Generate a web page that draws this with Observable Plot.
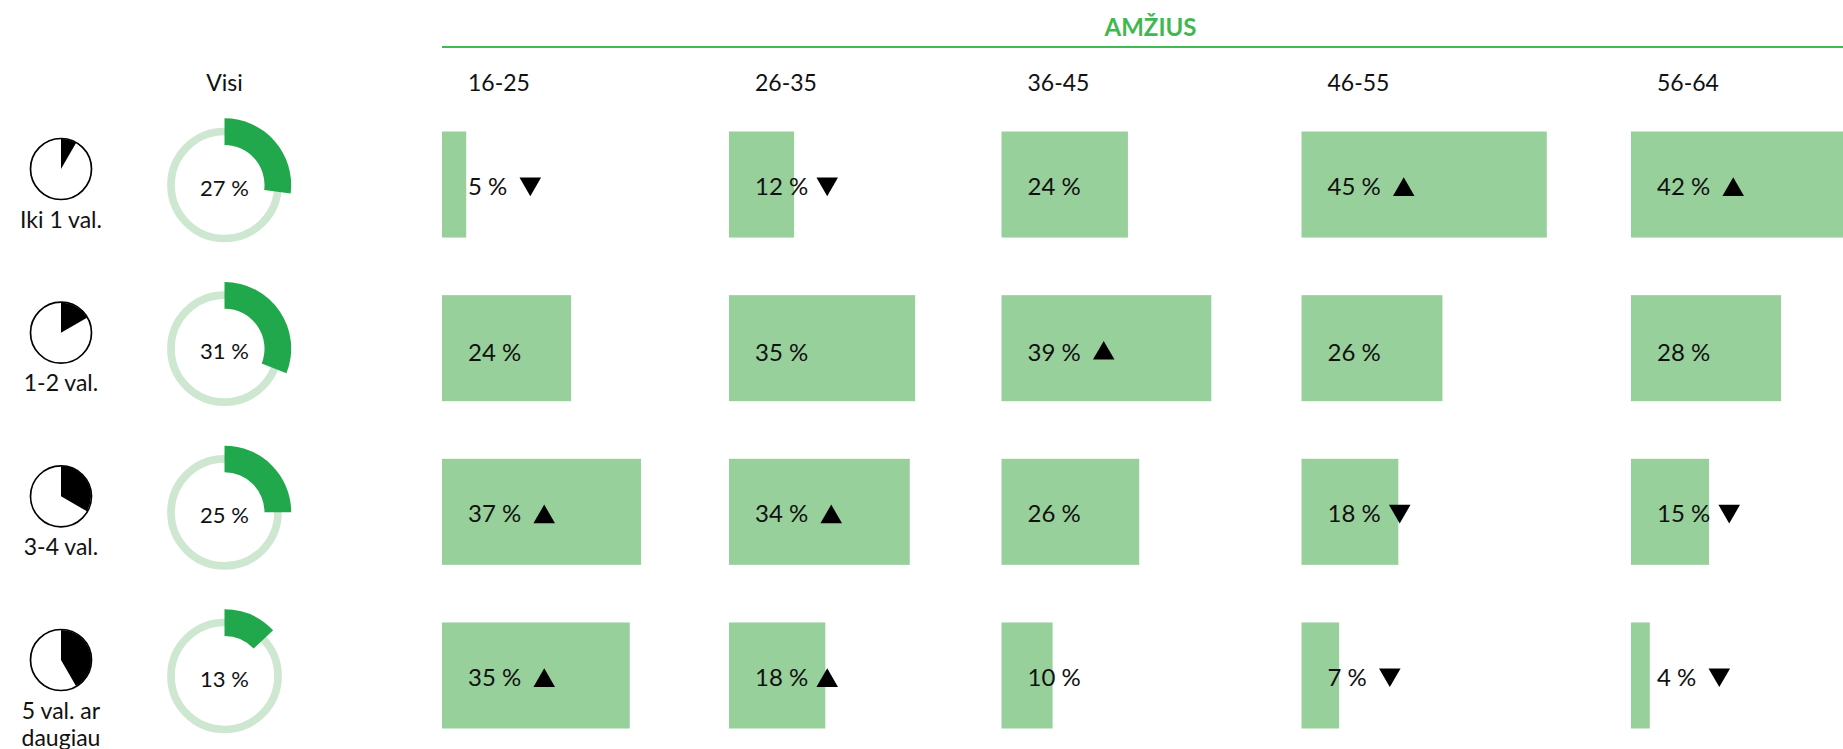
<!DOCTYPE html>
<html><head><meta charset="utf-8">
<script src="https://cdn.jsdelivr.net/npm/d3@7"></script>
<script src="https://cdn.jsdelivr.net/npm/@observablehq/plot@0.6"></script>
<style>
html,body{margin:0;padding:0;background:#fff;overflow:hidden}
svg{display:block}
g[aria-label="cell value"]{word-spacing:6.5px}
g[aria-label="overall value"]{word-spacing:4px}
g[aria-label="age"]{letter-spacing:.4px}
g[aria-label="duration"]{word-spacing:2px}
g[aria-label="duration"] text:nth-child(2){letter-spacing:1.1px}
g[aria-label="duration"] text:nth-child(3){letter-spacing:1.8px}
g[aria-label="duration"] text:nth-child(4){letter-spacing:2.4px}
</style>
</head><body><div id="chart"></div>
<script>
const durations = ["Iki 1 val.", "1-2 val.", "3-4 val.", "5 val. ar\ndaugiau"];
const clockHours = [1, 2, 4, 5];
const overall = [27, 31, 25, 13];
const ages = ["16-25", "26-35", "36-45", "46-55", "56-64"];
// shown label per row
const labels = [
  [5, 12, 24, 45, 42],
  [24, 35, 39, 26, 28],
  [37, 34, 26, 18, 15],
  [35, 18, 10, 7, 4]
];
// bar length per row
const barValues = [
  [4.5, 12.1, 23.5, 45.6, 42.2],
  [24, 34.6, 39, 26.2, 27.9],
  [37, 33.6, 25.6, 18, 14.5],
  [34.9, 17.9, 9.5, 7, 3.5]
];
// +1 above, -1 below the average, 0 none
const trends = [
  [-1, -1, 0, 1, 1],
  [0, 0, 1, 0, 0],
  [1, 1, 0, -1, -1],
  [1, 1, 0, -1, -1]
];
const headerTitle = "AMŽIUS";
const allTitle = "Visi";

// layout, in units of the x scale (percentage points)
const pxPerPoint = 5.38;
const toPoints = px => px / pxPerPoint;
const colStart = [442, 729, 1001.5, 1301.5, 1631].map(toPoints);
const clockX = toPoints(60.5);
const donutX = toPoints(224);
const titleX = toPoints(1150);
const FONT = "Lato";
const SIZE = 23;
const VALUE_SIZE = 24;
const VALUE_SPACING = 6.5;

const ctx = document.createElement("canvas").getContext("2d");
ctx.font = `${VALUE_SIZE}px ${FONT}`;
// the reference's digit "1" is narrower than this font's tabular one
const textPx = s => ctx.measureText(s).width + VALUE_SPACING - (s.match(/1/g) || []).length * 4;

const cells = durations.flatMap((duration, r) => ages.map((age, c) => ({
  duration, age, row: r, start: colStart[c], value: barValues[r][c],
  label: `${labels[r][c]} %`, trend: trends[r][c]
})));
const rows = durations.map((duration, r) => ({duration, hours: clockHours[r], share: overall[r]}));
const headers = ages.map((age, c) => ({age, start: colStart[c]}));
const firstRow = durations[0];

const arcShape = {draw(c, l) {
  const a0 = -Math.PI / 2, a1 = a0 + 2 * Math.PI * l / 100;
  c.arc(0, 0, 66.7, a0, a1);
  c.arc(0, 0, 40, a1, a0, true);
  c.closePath();
}};
const wedgeShape = {draw(c, l) {
  const a0 = -Math.PI / 2, a1 = a0 + 2 * Math.PI * l / 12;
  c.moveTo(0, 0);
  c.arc(0, 0, 30, a0, a1);
  c.closePath();
}};

const textBase = {fontFamily: FONT, fontSize: SIZE, fill: "#111"};
const valueText = {ariaLabel: "cell value", x: "start", y: "duration", text: "label", dx: 25.5, textAnchor: "start", fontFamily: FONT, fontSize: VALUE_SIZE, fill: "#111"};
const triangle = {
  x: d => d.start + toPoints(textPx(d.label)), y: "duration", dx: 25.5 + 16.5,
  symbol: "triangle", r: 8, fill: "#000", stroke: "none"
};

const chart = Plot.plot({
  width: 1843, height: 749, margin: 0,
  style: {background: "#fff", fontFamily: FONT},
  x: {type: "linear", domain: [0, 1843 / pxPerPoint], range: [0, 1843], axis: null},
  y: {type: "band", domain: durations, range: [131.5, 728.5], paddingInner: 0.352, paddingOuter: 0, round: false, axis: null},
  length: {type: "identity"},
  marks: [
    Plot.ruleY([firstRow], {x1: () => colStart[0], x2: () => 1843 / pxPerPoint, y: d => d, dy: -138, stroke: "#41b953", strokeWidth: 2}),
    Plot.text([headerTitle], {x: () => titleX, y: () => firstRow, text: d => d, dy: -157, fontFamily: FONT, fontSize: 24, fontWeight: 700, fill: "#3fb850"}),
    Plot.text([allTitle], {x: () => donutX, y: () => firstRow, text: d => d, dy: -101, ...textBase}),
    Plot.text(headers, {ariaLabel: "age", x: "start", y: () => firstRow, text: "age", dx: 25.5, dy: -101, textAnchor: "start", ...textBase}),
    Plot.barX(cells, {x1: "start", x2: d => d.start + d.value, y: "duration", fill: "#98d09b"}),
    Plot.text(cells.filter(d => d.row !== 1), {...valueText, dy: 2}),
    Plot.text(cells.filter(d => d.row === 1), {...valueText, dy: 4.5}),
    Plot.dot(cells.filter(d => d.trend > 0), {...triangle, dy: 4.7}),
    Plot.dot(cells.filter(d => d.trend < 0), {...triangle, dy: -1.3, rotate: 180}),
    // clock icons
    Plot.dot(rows, {x: () => clockX, y: "duration", dy: -16, r: 30.5, fill: "#fff", stroke: "#000", strokeWidth: 1.7}),
    Plot.vector(rows, {x: () => clockX, y: "duration", dy: -16, length: "hours", rotate: 0, anchor: "start", shape: wedgeShape, fill: "#000", stroke: "none"}),
    Plot.text(rows, {ariaLabel: "duration", x: () => clockX, y: "duration", text: "duration", dy: 23, fontFamily: FONT, fontSize: SIZE, fill: "#111", lineHeight: 1.2, lineAnchor: "top"}),
    // donuts
    Plot.dot(rows, {x: () => donutX, y: "duration", r: 53.5, fill: "none", stroke: "#cde7d0", strokeWidth: 7.7}),
    Plot.vector(rows, {x: () => donutX, y: "duration", length: "share", rotate: 0, anchor: "start", shape: arcShape, fill: "#22a84c", stroke: "none"}),
    Plot.text(rows, {ariaLabel: "overall value", x: () => donutX, y: "duration", text: d => `${d.share} %`, dy: 3.5, fontFamily: FONT, fontSize: 22, fill: "#111"})
  ]
});
document.getElementById("chart").append(chart);
</script></body></html>
